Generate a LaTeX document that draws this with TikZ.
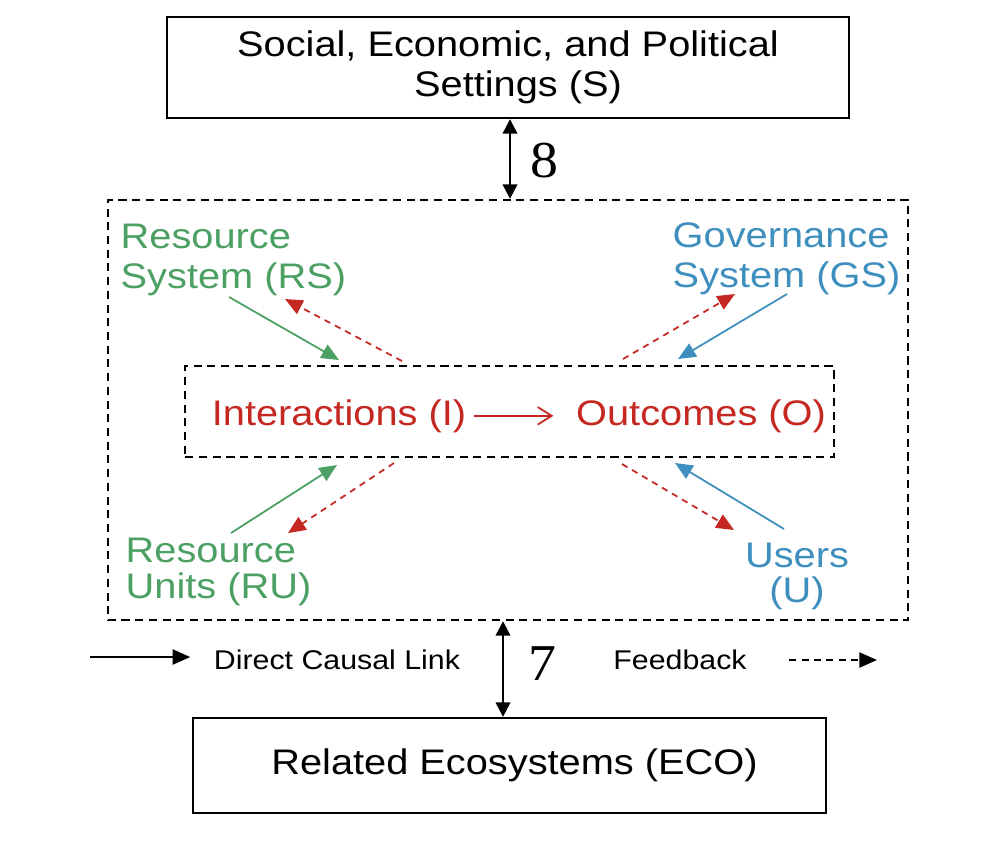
\documentclass[tikz,border=0pt]{standalone}
\usepackage{fontspec}
\setmainfont{Liberation Sans}[FakeStretch=1.12]
\newfontfamily\numfont{Liberation Serif}[FakeStretch=1.08]
\usepackage{xcolor}
\usepackage{tikz}
\usetikzlibrary{positioning, arrows.meta}
\definecolor{rsgreen}{RGB}{76,160,100}
\definecolor{gsblue}{RGB}{62,143,190}
\definecolor{ored}{RGB}{196,40,32}

\begin{document}
\begin{tikzpicture}[
    x=0.01cm, y=-0.01cm,
    every node/.style={font=\fontsize{10.1}{11.4}\selectfont, inner sep=0pt},
    settingbox/.style={rectangle, draw, line width=0.65pt, align=center},
    sesbox/.style={rectangle, draw, dash pattern=on 2.3pt off 1.6pt, line width=0.6pt},
    lbl/.style={align=left, anchor=north west},
    causal/.style={-{Triangle[length=5pt,width=4.3pt]}, line width=0.5pt},
    feedback/.style={-{Triangle[length=5pt,width=4.3pt]}, ored, dash pattern=on 1.8pt off 1.5pt, line width=0.5pt},
    link/.style={{Triangle[length=4.1pt,width=4.1pt]}-{Triangle[length=4.1pt,width=4.1pt]}, line width=0.65pt},
    legend/.style={font=\fontsize{7.7}{9}\selectfont},
    num/.style={font=\numfont\fontsize{14.7}{15}\selectfont}
]
    \useasboundingbox (0,0) rectangle (998,844);

    \node[settingbox, minimum width=6.82cm, minimum height=1.01cm] (S) at (508,67.5) {Social, Economic, and Political\\\hspace*{0.2cm}Settings (S)};
    \node[sesbox, minimum width=8.0cm, minimum height=4.2cm] (SES) at (508,410) {};
    \node[sesbox, minimum width=6.48cm, minimum height=0.91cm] (IO) at (509.5,411.5) {};
    \node[settingbox, minimum width=6.33cm, minimum height=0.95cm] (ECO) at (509.5,765.5) {\hspace*{0.1cm}Related Ecosystems (ECO)};

    \coordinate (l8) at (510,0);
    \coordinate (l7) at (503,0);
    \draw[link] (S.south -| l8) -- (SES.north -| l8);
    \draw[link] (SES.south -| l7) -- (ECO.north -| l7);
    \node[num] (n8) at (544,161) {8};
    \node[num] (n7) at (542,664) {7};

    \node[anchor=base, text=ored] (I) at (339,425) {Interactions (I)};
    \node[anchor=base, text=ored] (O) at (701,425) {Outcomes (O)};
    \draw[ored, line width=0.5pt, -{Straight Barb[length=4pt,width=5pt]}, shorten <=0.07cm, shorten >=0.22cm] (I) -- (O);

    \node[lbl, text=rsgreen] (RS) at (120,223) {Resource\\System (RS)};
    \node[lbl, text=gsblue] (GS) at (672,222) {Governance\\System (GS)};
    \node[lbl, text=rsgreen, font=\fontsize{10.1}{10.3}\selectfont] (RU) at (125,537) {Resource\\Units (RU)};
    \node[align=center, anchor=north, text=gsblue, font=\fontsize{10.1}{10.0}\selectfont] (U) at (797,542) {Users\\(U)};

    \coordinate (rsOut) at (229,297);
    \coordinate (rsIn) at (339,360);
    \coordinate (rsFbA) at (402,361);
    \coordinate (rsFbB) at (285,299);
    \coordinate (gsOut) at (787,294);
    \coordinate (gsIn) at (678,359);
    \coordinate (gsFbA) at (623,359);
    \coordinate (gsFbB) at (735,294);
    \coordinate (ruOut) at (231,533);
    \coordinate (ruIn) at (337,465);
    \coordinate (ruFbA) at (394,463);
    \coordinate (ruFbB) at (288,533);
    \coordinate (uOut) at (784,529);
    \coordinate (uIn) at (675,463);
    \coordinate (uFbA) at (622,464);
    \coordinate (uFbB) at (734,530);

    \draw[causal, rsgreen] (rsOut) -- (rsIn);
    \draw[feedback] (rsFbA) -- (rsFbB);
    \draw[causal, gsblue] (gsOut) -- (gsIn);
    \draw[feedback] (gsFbA) -- (gsFbB);
    \draw[causal, rsgreen] (ruOut) -- (ruIn);
    \draw[feedback] (ruFbA) -- (ruFbB);
    \draw[causal, gsblue] (uOut) -- (uIn);
    \draw[feedback] (uFbA) -- (uFbB);

    \coordinate (lgA) at (90,657);
    \coordinate (lgB) at (877,660);
    \node[legend] (DCL) at (337,660) {Direct Causal Link};
    \node[legend] (FB) at (680,660) {Feedback};
    \draw[causal, shorten >=0.23cm] (lgA) -- (lgA -| DCL.west);
    \draw[causal, dash pattern=on 2pt off 1.5pt, shorten <=0.42cm] (FB.east) -- (lgB);
\end{tikzpicture}
\end{document}
